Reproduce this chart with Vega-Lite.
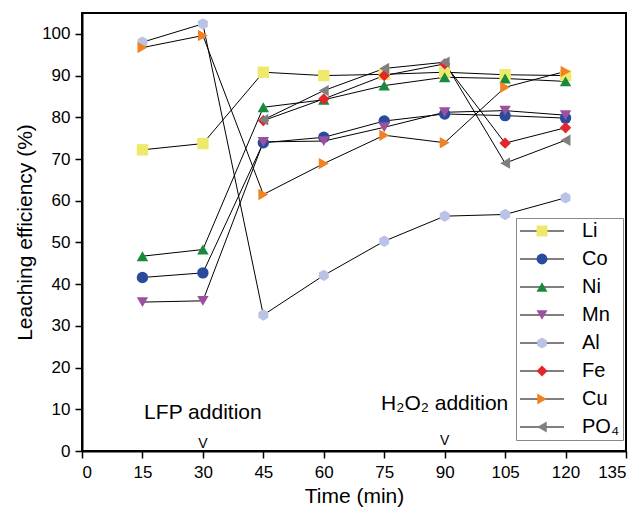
{
  "$schema": "https://vega.github.io/schema/vega-lite/v6.json",
  "width": 544,
  "height": 438,
  "autosize": {"type": "none"},
  "padding": {"left": 82, "top": 13, "right": 16, "bottom": 67},
  "background": "white",
  "config": {
    "font": "Liberation Sans",
    "view": {"stroke": "black", "strokeWidth": 2},
    "axis": {
      "grid": false,
      "domainColor": "black",
      "domainWidth": 2,
      "tickColor": "black",
      "tickWidth": 1.5,
      "tickSize": 7,
      "labelColor": "black",
      "labelFontSize": 17,
      "labelFont": "Liberation Sans",
      "titleFont": "Liberation Sans",
      "titleFontSize": 21,
      "titleFontWeight": "normal",
      "titleColor": "black"
    }
  },
  "datasets": {
    "series": [
      {"element": "Li", "time": 15, "value": 72.2},
      {"element": "Li", "time": 30, "value": 73.7},
      {"element": "Li", "time": 45, "value": 90.8},
      {"element": "Li", "time": 60, "value": 90.0},
      {"element": "Li", "time": 75, "value": 90.3},
      {"element": "Li", "time": 90, "value": 90.8},
      {"element": "Li", "time": 105, "value": 90.2},
      {"element": "Li", "time": 120, "value": 90.0},
      {"element": "Co", "time": 15, "value": 41.6},
      {"element": "Co", "time": 30, "value": 42.7},
      {"element": "Co", "time": 45, "value": 73.9},
      {"element": "Co", "time": 60, "value": 75.2},
      {"element": "Co", "time": 75, "value": 79.1},
      {"element": "Co", "time": 90, "value": 80.8},
      {"element": "Co", "time": 105, "value": 80.4},
      {"element": "Co", "time": 120, "value": 79.8},
      {"element": "Ni", "time": 15, "value": 46.7},
      {"element": "Ni", "time": 30, "value": 48.3},
      {"element": "Ni", "time": 45, "value": 82.4},
      {"element": "Ni", "time": 60, "value": 84.2},
      {"element": "Ni", "time": 75, "value": 87.6},
      {"element": "Ni", "time": 90, "value": 89.6},
      {"element": "Ni", "time": 105, "value": 89.3},
      {"element": "Ni", "time": 120, "value": 88.6},
      {"element": "Mn", "time": 15, "value": 35.7},
      {"element": "Mn", "time": 30, "value": 36.0},
      {"element": "Mn", "time": 45, "value": 74.1},
      {"element": "Mn", "time": 60, "value": 74.3},
      {"element": "Mn", "time": 75, "value": 77.6},
      {"element": "Mn", "time": 90, "value": 81.2},
      {"element": "Mn", "time": 105, "value": 81.6},
      {"element": "Mn", "time": 120, "value": 80.5},
      {"element": "Al", "time": 15, "value": 98.0},
      {"element": "Al", "time": 30, "value": 102.4},
      {"element": "Al", "time": 45, "value": 32.6},
      {"element": "Al", "time": 60, "value": 42.1},
      {"element": "Al", "time": 75, "value": 50.3},
      {"element": "Al", "time": 90, "value": 56.3},
      {"element": "Al", "time": 105, "value": 56.7},
      {"element": "Al", "time": 120, "value": 60.7},
      {"element": "Fe", "time": 45, "value": 79.2},
      {"element": "Fe", "time": 60, "value": 84.4},
      {"element": "Fe", "time": 75, "value": 90.0},
      {"element": "Fe", "time": 90, "value": 92.8},
      {"element": "Fe", "time": 105, "value": 73.8},
      {"element": "Fe", "time": 120, "value": 77.5},
      {"element": "Cu", "time": 15, "value": 96.7},
      {"element": "Cu", "time": 30, "value": 99.6},
      {"element": "Cu", "time": 45, "value": 61.5},
      {"element": "Cu", "time": 60, "value": 68.9},
      {"element": "Cu", "time": 75, "value": 75.7},
      {"element": "Cu", "time": 90, "value": 73.9},
      {"element": "Cu", "time": 105, "value": 87.2},
      {"element": "Cu", "time": 120, "value": 91.0},
      {"element": "PO₄", "time": 45, "value": 79.4},
      {"element": "PO₄", "time": 60, "value": 86.4},
      {"element": "PO₄", "time": 75, "value": 91.7},
      {"element": "PO₄", "time": 90, "value": 93.2},
      {"element": "PO₄", "time": 105, "value": 69.0},
      {"element": "PO₄", "time": 120, "value": 74.5}
    ],
    "notes": [
      {"x": 30, "y": 7.7, "label": "LFP addition"},
      {"x": 90, "y": 9.8, "label": "H₂O₂ addition"}
    ],
    "arrows": [
      {"x": 30, "y": 0.6, "label": "V"},
      {"x": 90, "y": 1.4, "label": "V"}
    ]
  },
  "layer": [
    {
      "data": {"name": "series"},
      "mark": {"type": "line", "strokeWidth": 1},
      "encoding": {
        "x": {
          "field": "time", "type": "quantitative",
          "scale": {"domain": [0, 135], "nice": false},
          "axis": {"values": [0, 15, 30, 45, 60, 75, 90, 105, 120, 135], "title": "Time (min)", "labelPadding": 6, "titlePadding": 5}
        },
        "y": {
          "field": "value", "type": "quantitative",
          "scale": {"domain": [0, 105], "nice": false},
          "axis": {"values": [0, 10, 20, 30, 40, 50, 60, 70, 80, 90, 100], "title": "Leaching efficiency (%)", "labelPadding": 5, "titlePadding": 6}
        },
        "stroke": {
          "field": "element", "type": "nominal",
          "sort": ["Li", "Co", "Ni", "Mn", "Al", "Fe", "Cu", "PO₄"],
          "scale": {
            "range": ["black", "black", "black", "black", "black", "black", "black", "black"]
          },
          "legend": {
            "orient": "none",
            "legendX": 434,
            "legendY": 205,
            "title": null,
            "symbolType": "M-4.4,0H4.4",
            "symbolSize": 100,
            "symbolStrokeWidth": 1,
            "symbolOffset": 13,
            "labelFontSize": 20,
            "labelFont": "Liberation Sans",
            "labelColor": "black",
            "labelOffset": 30,
            "rowPadding": 8,
            "columnPadding": 0,
            "padding": 3,
            "strokeColor": "#888888",
            "fillColor": "white"
          }
        }
      }
    },
    {
      "data": {"name": "series"},
      "mark": {"type": "point", "filled": true, "opacity": 1, "size": 130, "strokeWidth": 0},
      "encoding": {
        "x": {"field": "time", "type": "quantitative"},
        "y": {"field": "value", "type": "quantitative"},
        "color": {
          "field": "element", "type": "nominal",
          "scale": {
            "domain": ["Li", "Co", "Ni", "Mn", "Al", "Fe", "Cu", "PO₄"],
            "range": ["#EFE96B", "#2A4B9B", "#178A3B", "#9E4F9F", "#BAC2E5", "#E3262A", "#F28121", "#7F7F7F"]
          },
          "legend": {
            "orient": "none",
            "legendX": 434,
            "legendY": 205,
            "title": null,
            "symbolSize": 120,
            "symbolStrokeWidth": 0,
            "symbolOffset": 13,
            "labelFontSize": 20,
            "labelOpacity": 0,
            "labelOffset": 30,
            "rowPadding": 8,
            "columnPadding": 0,
            "padding": 3
          }
        },
        "shape": {
          "field": "element", "type": "nominal",
          "scale": {
            "domain": ["Li", "Co", "Ni", "Mn", "Al", "Fe", "Cu", "PO₄"],
            "range": ["square", "circle", "triangle-up", "triangle-down", "M0,-1L0.866,-0.5L0.866,0.5L0,1L-0.866,0.5L-0.866,-0.5Z", "diamond", "triangle-right", "triangle-left"]
          },
          "legend": {
            "orient": "none",
            "legendX": 434,
            "legendY": 205,
            "title": null,
            "symbolSize": 120,
            "symbolStrokeWidth": 0,
            "symbolOffset": 13,
            "labelFontSize": 20,
            "labelOpacity": 0,
            "labelOffset": 30,
            "rowPadding": 8,
            "columnPadding": 0,
            "padding": 3
          }
        }
      }
    },
    {
      "data": {"name": "notes"},
      "mark": {"type": "text", "fontSize": 21, "baseline": "alphabetic", "align": "center", "color": "black", "font": "Liberation Sans"},
      "encoding": {
        "x": {"field": "x", "type": "quantitative"},
        "y": {"field": "y", "type": "quantitative"},
        "text": {"field": "label"}
      }
    },
    {
      "data": {"name": "arrows"},
      "mark": {"type": "text", "fontSize": 14, "baseline": "alphabetic", "align": "center", "color": "black", "font": "Liberation Sans"},
      "encoding": {
        "x": {"field": "x", "type": "quantitative"},
        "y": {"field": "y", "type": "quantitative"},
        "text": {"field": "label"}
      }
    }
  ]
}
